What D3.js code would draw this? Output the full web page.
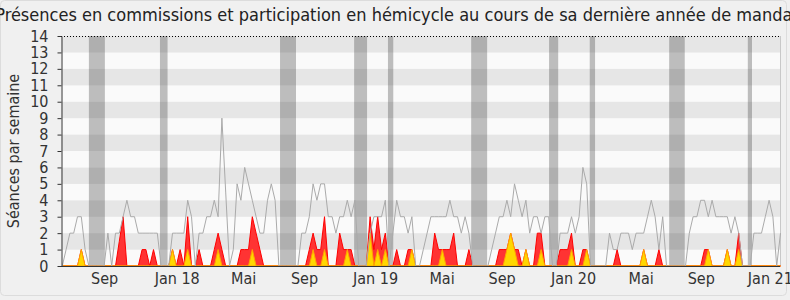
<!DOCTYPE html>
<html>
<head>
<meta charset="utf-8">
<script src="https://cdn.jsdelivr.net/npm/d3@7"></script>
<style>
  body { margin: 0; background: #f0f0f0; }
  svg { display: block; font-family: "DejaVu Sans Condensed", "DejaVu Sans", sans-serif; }
</style>
</head>
<body>
<svg id="chart" width="790" height="300"></svg>
<script>
// one value per week, week 0 = early June 2017
const mediane = [
  0, 1, 2, 2, 3, 3, 1, 0, 0, 0,
  0, 0, 2, 0, 2, 2, 3, 4, 3, 3,
  2, 2, 2, 2, 2, 2, 0, 0, 0, 2,
  2, 2, 2, 4, 3, 0, 2, 2, 3, 3,
  4, 3, 9, 4.5, 0, 1, 5, 4, 6, 5,
  4, 3, 2, 2, 4, 5, 4, 0, 0, 0,
  0, 0, 0, 2, 2, 3, 5, 4, 5, 5,
  3, 3, 2, 3, 3, 4, 3, 4, 0, 0,
  0, 2, 3, 3, 3, 4, 0, 2, 4, 3,
  3, 2, 3, 0, 0, 1, 2, 3, 3, 3,
  3, 3, 4, 3, 3, 2, 3, 2, 0, 0,
  0, 0, 0, 1, 2, 3, 3, 4, 3, 5,
  4, 3, 4, 2, 3, 3, 2, 3, 3, 0,
  0, 2, 2, 2, 3, 2, 3, 6, 5, 0,
  0, 0, 0, 0, 2, 1, 1, 2, 2, 2,
  1, 2, 2, 2, 3, 4, 3, 1, 3, 0,
  0, 0, 0, 0, 0, 2, 3, 3, 4, 4,
  3, 4, 3, 3, 3, 3, 2, 3, 2, 0,
  0, 0, 2, 2, 2, 3, 4, 3, 0, 2
];

const commissions = [
  0, 0, 0, 0, 0, 1, 0, 0, 0, 0,
  0, 0, 0, 0, 0, 1.5, 3, 0, 0, 0,
  0, 1, 1, 0, 1, 0, 0, 0, 0, 1,
  0, 1, 0, 3, 0, 0, 1, 0, 0, 0,
  1, 2, 1, 0, 0, 0, 0, 1, 1, 1,
  3, 2, 1, 0, 0, 0, 0, 0, 0, 0,
  0, 0, 0, 0, 0, 1, 2, 1, 1, 3,
  0, 0, 0, 2, 1, 1, 1, 0, 0, 0,
  0, 3, 1, 3, 1, 2, 0, 0, 1, 0,
  0, 1, 1, 0, 0, 0, 0, 0, 2, 1,
  1, 1, 1, 2, 0, 0, 0, 1, 0, 0,
  0, 0, 0, 0, 0, 1, 1, 1, 2, 1,
  1, 0, 1, 0, 0, 2, 2, 0, 0, 0,
  0, 1, 1, 1, 2, 0, 0, 1, 1, 0,
  0, 0, 0, 0, 0, 0, 1, 0, 0, 0,
  0, 0, 0, 1, 0, 0, 0, 1, 0, 0,
  0, 0, 0, 0, 0, 0, 0, 0, 0, 1,
  1, 0, 0, 0, 0, 1, 0, 0, 2, 0,
  0, 0, 0, 0, 0, 0, 0, 0, 0, 0
];

const hemicycle = [
  0, 0, 0, 0, 0, 1, 0, 0, 0, 0,
  0, 0, 0, 0, 0, 0, 0, 0, 0, 0,
  0, 0, 0, 0, 0, 0, 0, 0, 0, 1,
  0, 0, 0, 1, 0, 0, 0, 0, 0, 0,
  0, 1, 0, 0, 0, 0, 0, 0, 0, 0,
  1, 0, 0, 0, 0, 0, 0, 0, 0, 0,
  0, 0, 0, 0, 0, 0, 1, 0, 0, 1,
  0, 0, 0, 0, 0, 1, 0, 0, 0, 0,
  0, 2, 0, 1, 0, 1, 0, 0, 0, 0,
  0, 0, 1, 0, 0, 0, 0, 0, 0, 0,
  1, 0, 0, 0, 0, 0, 0, 0, 0, 0,
  0, 0, 0, 0, 0, 0, 0, 1, 2, 1,
  0, 0, 1, 0, 0, 0, 1, 0, 0, 0,
  0, 0, 0, 0, 1, 0, 0, 0, 1, 0,
  0, 0, 0, 0, 0, 0, 0, 0, 0, 0,
  0, 0, 0, 1, 0, 0, 0, 0, 0, 0,
  0, 0, 0, 0, 0, 0, 0, 0, 0, 0,
  1, 0, 0, 0, 0, 1, 0, 0, 1, 0,
  0, 0, 0, 0, 0, 0, 0, 0, 0, 0
];

// parliamentary breaks, in weeks [start, end]
const vacances = [
  [7.0, 11.2], [25.7, 27.7], [57.3, 61.5], [76.8, 80.2], [85.7, 87.1],
  [107.6, 111.8], [128.1, 130.5], [138.8, 140.2], [159.7, 163.8], [180.4, 181.5]
];

const xTickWeeks = [11, 30.1, 47.6, 63.6, 82.3, 99.8, 115.6, 134.4, 152.2, 168, 186.2];
const xTickLabels = ['Sep', 'Jan 18', 'Mai', 'Sep', 'Jan 19', 'Mai', 'Sep', 'Jan 20', 'Mai', 'Sep', 'Jan 21'];
const yTicks = [0, 1, 2, 3, 4, 5, 6, 7, 8, 9, 10, 11, 12, 13, 14];

const width = 790, height = 300;
const margin = { left: 61, right: 780, top: 36, bottom: 266 };

const svg = d3.select('#chart');

// outer frame
svg.append('rect')
  .attr('x', 0.5).attr('y', 0.5)
  .attr('width', width - 4).attr('height', height - 5)
  .attr('rx', 4)
  .attr('fill', '#f0f0f0')
  .attr('stroke', '#dcdcdc');

const x = d3.scaleLinear().domain([0, mediane.length - 1]).range([62.3, 780.5]);
const y = d3.scaleLinear().domain([0, 14]).range([margin.bottom, margin.top]);

// stripes
svg.append('g')
  .selectAll('rect')
  .data(yTicks.slice(0, -1))
  .join('rect')
  .attr('x', margin.left)
  .attr('y', d => y(d + 1))
  .attr('width', margin.right - margin.left)
  .attr('height', d => y(d) - y(d + 1))
  .attr('fill', d => d % 2 ? '#e6e6e6' : '#fafafa');

// breaks
svg.append('g')
  .selectAll('rect')
  .data(vacances)
  .join('rect')
  .attr('x', d => x(d[0]))
  .attr('y', margin.top)
  .attr('width', d => x(d[1]) - x(d[0]))
  .attr('height', margin.bottom - margin.top)
  .attr('fill', '#333')
  .attr('fill-opacity', 0.3);

// right border and dotted top
svg.append('line')
  .attr('x1', margin.right + 0.5).attr('x2', margin.right + 0.5)
  .attr('y1', margin.top).attr('y2', margin.bottom)
  .attr('stroke', '#c8c8c8');

svg.append('line')
  .attr('x1', margin.left).attr('x2', margin.right)
  .attr('y1', margin.top + 0.5).attr('y2', margin.top + 0.5)
  .attr('stroke', '#000')
  .attr('stroke-dasharray', '1,2');

const area = d3.area()
  .x((d, i) => x(i))
  .y0(y(0))
  .y1(d => y(d));

svg.append('path')
  .datum(commissions)
  .attr('d', area)
  .attr('fill', '#ff3333')
  .attr('stroke', '#ff0000')
  .attr('stroke-width', 1);

svg.append('path')
  .datum(hemicycle)
  .attr('d', area)
  .attr('fill', '#ffd700')
  .attr('stroke', '#ffa500')
  .attr('stroke-width', 1);

svg.append('path')
  .datum(mediane)
  .attr('d', d3.line().x((d, i) => x(i)).y(d => y(d)))
  .attr('fill', 'none')
  .attr('stroke', '#aaaaaa')
  .attr('stroke-width', 1);

// axes
const yAxis = svg.append('g')
  .attr('transform', `translate(${margin.left + 0.5},0)`)
  .call(d3.axisLeft(y).tickValues(yTicks).tickSize(4).tickSizeOuter(0).tickPadding(9));

yAxis.selectAll('text').attr('font-size', '16px').attr('fill', '#333');
yAxis.selectAll('line, path').attr('stroke', '#333');
yAxis.attr('font-family', null);

const xAxis = svg.append('g')
  .attr('transform', `translate(0,${margin.bottom + 0.5})`)
  .call(d3.axisBottom(x).tickValues(xTickWeeks).tickFormat((d, i) => xTickLabels[i]).tickSize(0).tickPadding(6));

xAxis.select('.domain')
  .attr('d', `M${margin.left},0H${margin.right}`)
  .attr('stroke', '#333');
xAxis.selectAll('text').attr('font-size', '16px').attr('fill', '#333');
xAxis.attr('font-family', null);

// titles
svg.append('text')
  .attr('x', 397)
  .attr('y', 21)
  .attr('text-anchor', 'middle')
  .attr('font-size', '18px')
  .attr('fill', '#222')
  .text('Présences en commissions et participation en hémicycle au cours de sa dernière année de mandat');

svg.append('text')
  .attr('transform', `translate(19,${(margin.top + margin.bottom) / 2}) rotate(-90)`)
  .attr('text-anchor', 'middle')
  .attr('font-size', '16px')
  .attr('fill', '#333')
  .text('Séances par semaine');
</script>
</body>
</html>
